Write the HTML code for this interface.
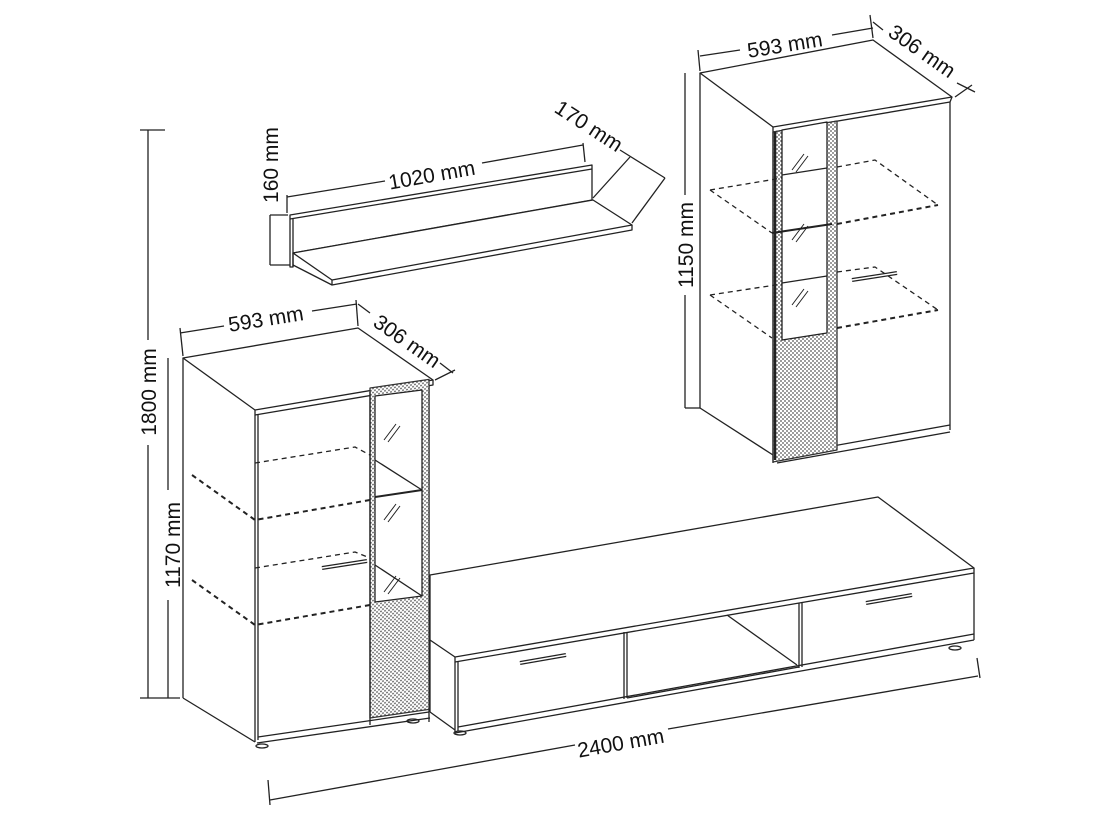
<!DOCTYPE html>
<html><head><meta charset="utf-8"><style>html,body{margin:0;padding:0;background:#fff}svg{display:block}</style></head><body>
<svg width="1096" height="822" viewBox="0 0 1096 822" xmlns="http://www.w3.org/2000/svg" font-family="Liberation Sans, sans-serif" font-size="21" fill="none" stroke="#222" stroke-width="1.3">
<defs>
<pattern id="h" width="4" height="4" patternUnits="userSpaceOnUse"><rect width="4" height="4" fill="#fff" stroke="none"/><circle cx="1" cy="1" r="0.9" fill="#555" stroke="none"/><circle cx="3" cy="3" r="0.9" fill="#555" stroke="none"/></pattern>
</defs>
<g stroke-linejoin="round">
<!-- LEFT CABINET -->
<polygon points="183,358 358,328 433,380 255,410" fill="#fff"/>
<polyline points="255,410 255,415 433,385 433,380"/>
<line x1="183" y1="358" x2="183" y2="698"/>
<line x1="255" y1="415" x2="255" y2="742"/>
<line x1="258" y1="415" x2="258" y2="740"/>
<line x1="429" y1="385" x2="429" y2="722"/>
<line x1="183" y1="698" x2="255" y2="742"/>
<line x1="257" y1="743" x2="430" y2="718"/>
<line x1="258" y1="737" x2="429" y2="712"/>
<rect x="370" y="388" width="59" height="330" fill="url(#h)" transform="skewY(-8.3)" transform-origin="370 388" stroke="#333"/>
<polygon points="375,396 422,390 422,596 375,602" fill="#fff"/>
<line x1="370" y1="392" x2="370" y2="725"/>
<path d="M384 440l12-16M388 442l12-16M384 520l12-16M388 522l12-16M384 592l12-16M388 594l12-16" stroke-width="1"/>
<line x1="375" y1="460" x2="422" y2="490"/><line x1="375" y1="497" x2="422" y2="490" stroke-width="2"/>
<line x1="375" y1="565" x2="422" y2="596"/>
<g stroke-dasharray="5,4">
<polyline points="255,463 355,447 370,455"/><polyline points="192,475 255,520 370,500" stroke-width="2"/>
<polyline points="255,568 355,552 370,558"/><polyline points="192,580 255,625 370,605" stroke-width="2"/>
</g>
<line x1="322" y1="568" x2="367" y2="561" stroke-width="4"/><line x1="322" y1="568" x2="367" y2="561" stroke="#fff" stroke-width="1.5"/>
<ellipse cx="262" cy="746" rx="6" ry="2"/><ellipse cx="413" cy="721" rx="6" ry="2"/>
<!-- dims left -->
<line x1="183" y1="356" x2="180" y2="328"/><line x1="358" y1="326" x2="356" y2="300"/>
<line x1="180" y1="333" x2="224" y2="326"/><line x1="312" y1="311" x2="357" y2="304"/>
<text x="267" y="326" fill="#111" stroke="none" text-anchor="middle" transform="rotate(-9 267 326)">593 mm</text>
<line x1="358" y1="304" x2="370" y2="313"/><line x1="440" y1="363" x2="453" y2="373"/><line x1="435" y1="380" x2="455" y2="370"/>
<text x="403" y="347" fill="#111" stroke="none" text-anchor="middle" transform="rotate(35 403 347)">306 mm</text>
<line x1="168" y1="358" x2="168" y2="490"/><line x1="168" y1="600" x2="168" y2="698"/>
<text x="180" y="545" fill="#111" stroke="none" text-anchor="middle" transform="rotate(-90 180 545)">1170 mm</text>
<line x1="148" y1="130" x2="148" y2="340"/><line x1="148" y1="445" x2="148" y2="698"/>
<line x1="140" y1="130" x2="165" y2="130"/><line x1="140" y1="698" x2="180" y2="698"/>
<text x="156" y="392" fill="#111" stroke="none" text-anchor="middle" transform="rotate(-90 156 392)">1800 mm</text>
<!-- TV UNIT -->
<polygon points="430,575 878,497 974,568 455,657 430,640" fill="#fff"/>
<polyline points="455,657 455,662 974,573 974,568"/>
<line x1="430" y1="640" x2="430" y2="712"/><line x1="430" y1="712" x2="455" y2="730"/>
<line x1="455" y1="662" x2="455" y2="732"/><line x1="458" y1="662" x2="458" y2="731"/>
<line x1="974" y1="573" x2="974" y2="640"/>
<line x1="455" y1="733" x2="974" y2="640"/><line x1="458" y1="727" x2="974" y2="634"/>
<line x1="624" y1="632" x2="624" y2="699"/><line x1="627" y1="632" x2="627" y2="698"/>
<line x1="799" y1="603" x2="799" y2="668"/><line x1="802" y1="602" x2="802" y2="667"/>
<line x1="727" y1="615" x2="797" y2="665"/>
<line x1="627" y1="698" x2="799" y2="667"/>
<line x1="520" y1="663" x2="566" y2="655" stroke-width="4"/><line x1="520" y1="663" x2="566" y2="655" stroke="#fff" stroke-width="1.5"/>
<line x1="866" y1="603" x2="912" y2="595" stroke-width="4"/><line x1="866" y1="603" x2="912" y2="595" stroke="#fff" stroke-width="1.5"/>
<ellipse cx="460" cy="733" rx="6" ry="2"/><ellipse cx="955" cy="648" rx="6" ry="2"/>
<line x1="268" y1="780" x2="270" y2="805"/><line x1="977" y1="658" x2="980" y2="678"/>
<line x1="270" y1="800" x2="575" y2="745"/><line x1="668" y1="729" x2="978" y2="676"/>
<text x="622" y="750" fill="#111" stroke="none" text-anchor="middle" transform="rotate(-10 622 750)">2400 mm</text>
<!-- RIGHT CABINET -->
<polygon points="700,73 873,40 952,97 773,127" fill="#fff"/>
<polyline points="773,127 773,132 950,102 952,97"/>
<line x1="700" y1="73" x2="700" y2="408"/><line x1="700" y1="408" x2="773" y2="455"/>
<line x1="773" y1="132" x2="773" y2="463"/><line x1="950" y1="102" x2="950" y2="430"/>
<line x1="777" y1="463" x2="950" y2="432"/><line x1="777" y1="456" x2="950" y2="425"/>
<polygon points="773,132 837,121 837,450 773,462" fill="url(#h)" stroke="#333"/>
<polygon points="782,130 827,122 827,333 782,340" fill="#fff"/>
<line x1="775" y1="132" x2="775" y2="460" stroke-width="2.5"/>
<path d="M792 170l12-16M796 172l12-16M792 240l12-16M796 242l12-16M792 305l12-16M796 307l12-16" stroke-width="1"/>
<line x1="782" y1="175" x2="827" y2="168"/><line x1="772" y1="233" x2="832" y2="224" stroke-width="2"/><line x1="782" y1="283" x2="827" y2="276"/>
<g stroke-dasharray="5,4">
<polyline points="837,167 875,160 938,205"/><polyline points="710,190 772,233"/><polyline points="837,224 938,205" stroke-width="2"/>
<polyline points="837,272 875,267 938,310"/><polyline points="710,295 772,338"/><polyline points="837,328 938,310" stroke-width="2"/>
<polyline points="710,190 782,178"/><polyline points="710,295 782,284"/>
</g>
<line x1="852" y1="280" x2="897" y2="273" stroke-width="4"/><line x1="852" y1="280" x2="897" y2="273" stroke="#fff" stroke-width="1.5"/>
<line x1="700" y1="71" x2="698" y2="50"/><line x1="873" y1="38" x2="870" y2="15"/>
<line x1="700" y1="56" x2="740" y2="50"/><line x1="832" y1="35" x2="873" y2="28"/>
<text x="786" y="52" fill="#111" stroke="none" text-anchor="middle" transform="rotate(-9 786 52)">593 mm</text>
<line x1="873" y1="22" x2="883" y2="30"/><line x1="957" y1="83" x2="975" y2="92"/><line x1="955" y1="97" x2="972" y2="85"/>
<text x="918" y="57" fill="#111" stroke="none" text-anchor="middle" transform="rotate(35 918 57)">306 mm</text>
<line x1="685" y1="73" x2="685" y2="195"/><line x1="685" y1="295" x2="685" y2="408"/>
<line x1="685" y1="408" x2="700" y2="408"/>
<text x="693" y="245" fill="#111" stroke="none" text-anchor="middle" transform="rotate(-90 693 245)">1150 mm</text>
<!-- SHELF -->
<polygon points="290,215 592,165 592,200 293,253 293,267 290,267" fill="#fff"/>
<line x1="290" y1="219" x2="592" y2="169"/>
<line x1="293" y1="219" x2="293" y2="267"/>
<polygon points="293,253 593,200 632,225 332,280" fill="#fff"/>
<polyline points="332,280 332,285 632,230 632,225"/>
<line x1="293" y1="265" x2="332" y2="285"/>
<line x1="270" y1="215" x2="288" y2="215"/><line x1="270" y1="265" x2="290" y2="265"/>
<line x1="270" y1="215" x2="270" y2="265"/>
<text x="278" y="165" fill="#111" stroke="none" text-anchor="middle" transform="rotate(-90 278 165)">160 mm</text>
<line x1="287" y1="213" x2="287" y2="195"/><line x1="585" y1="162" x2="583" y2="143"/>
<line x1="287" y1="197" x2="385" y2="181"/><line x1="482" y1="163" x2="583" y2="145"/>
<text x="433" y="182" fill="#111" stroke="none" text-anchor="middle" transform="rotate(-10 433 182)">1020 mm</text>
<line x1="593" y1="198" x2="630" y2="157"/><line x1="632" y1="223" x2="665" y2="178"/>
<line x1="620" y1="150" x2="665" y2="178"/>
<text x="585" y="132" fill="#111" stroke="none" text-anchor="middle" transform="rotate(33 585 132)">170 mm</text>
</g>
</svg>
</body></html>
